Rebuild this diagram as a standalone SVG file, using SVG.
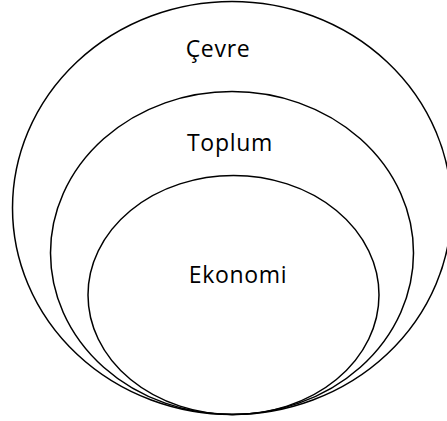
<svg xmlns="http://www.w3.org/2000/svg" width="447" height="421" viewBox="0 0 447 421">
<style>
.c{fill:none;stroke:#000;stroke-width:1.5}
.t{font-family:"Open Sans","Liberation Sans",sans-serif;font-size:23px;letter-spacing:0.7px;fill:#000;text-anchor:middle}
</style>
<rect width="447" height="421" fill="#fff"/>
<g id="cevre">
<ellipse class="c" cx="232" cy="208" rx="219.5" ry="206.5"/>
<text class="t" x="218" y="57">Çevre</text>
</g>
<g id="toplum">
<ellipse class="c" cx="232" cy="253" rx="181.5" ry="161.5"/>
<text class="t" x="230" y="151">Toplum</text>
</g>
<g id="ekonomi">
<ellipse class="c" cx="233.5" cy="295" rx="145.5" ry="119.5"/>
<text class="t" x="238" y="283">Ekonomi</text>
</g>
<g id="connectors"/>
</svg>
